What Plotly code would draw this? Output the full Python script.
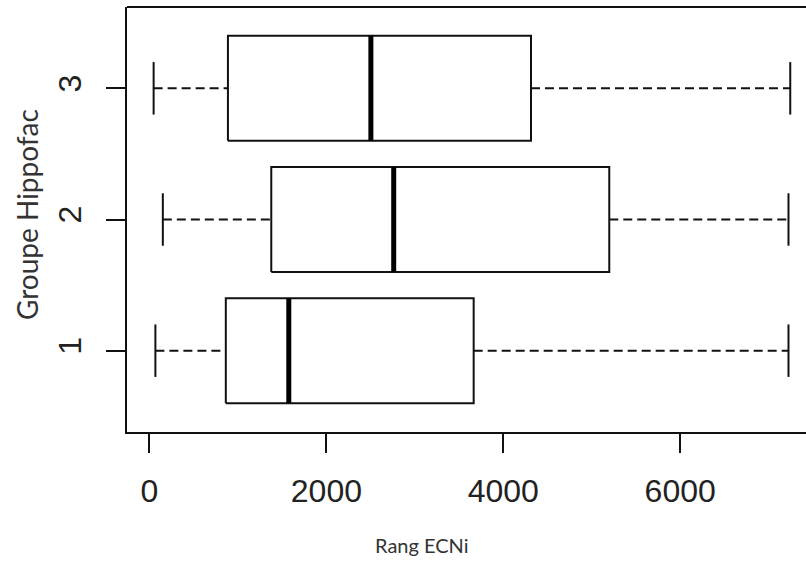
import plotly.graph_objects as go

# Five-number summaries per group (Rang ECNi)
groups = [1, 2, 3]
whisker_low = [67, 151, 47]
q1 = [863, 1377, 887]
median = [1575, 2761, 2503]
q3 = [3665, 5198, 4313]
whisker_high = [7224, 7224, 7244]

x_ticks = [0, 2000, 4000, 6000]
x_tick_labels = ["0", "2000", "4000", "6000"]

BOX_HALF = 0.4    # half of box thickness (boxwex 0.8)
CAP_HALF = 0.2    # half of whisker staple length
INK = "#111111"

box_x, box_y = [], []
med_x, med_y = [], []
wh_x, wh_y = [], []
cap_x, cap_y = [], []
for g, lo, a, m, b, hi in zip(groups, whisker_low, q1, median, q3, whisker_high):
    box_x += [a, b, b, a, a, None]
    box_y += [g - BOX_HALF, g - BOX_HALF, g + BOX_HALF, g + BOX_HALF, g - BOX_HALF, None]
    med_x += [m, m, None]
    med_y += [g - BOX_HALF, g + BOX_HALF, None]
    wh_x += [lo, a, None, b, hi, None]
    wh_y += [g, g, None, g, g, None]
    cap_x += [lo, lo, None, hi, hi, None]
    cap_y += [g - CAP_HALF, g + CAP_HALF, None, g - CAP_HALF, g + CAP_HALF, None]

fig = go.Figure()
fig.add_trace(go.Scatter(x=wh_x, y=wh_y, mode="lines",
                         line=dict(color=INK, width=2, dash="9px,5px"),
                         hoverinfo="skip"))
fig.add_trace(go.Scatter(x=cap_x, y=cap_y, mode="lines",
                         line=dict(color=INK, width=2), hoverinfo="skip"))
fig.add_trace(go.Scatter(x=box_x, y=box_y, mode="lines",
                         line=dict(color=INK, width=2), hoverinfo="skip"))
fig.add_trace(go.Scatter(x=med_x, y=med_y, mode="lines",
                         line=dict(color="#000000", width=5), hoverinfo="skip"))

tick_font = dict(family="Liberation Sans, Arial, sans-serif", size=32, color="#222222")
xtitle_font = dict(family="Lato, Open Sans, sans-serif", size=20, color="#333333")
ytitle_font = dict(family="Lato, Open Sans, sans-serif", size=28, color="#333333")

fig.update_layout(
    width=806, height=567,
    margin=dict(l=127, r=0, t=7, b=135),
    paper_bgcolor="white", plot_bgcolor="white",
    showlegend=False,
    xaxis=dict(range=[-254, 7422], tickvals=x_ticks, ticktext=x_tick_labels,
               ticks="outside", ticklen=19, tickwidth=2, tickcolor=INK,
               showline=True, linecolor=INK, linewidth=2,
               showgrid=False, zeroline=False, tickfont=tick_font,
               ticklabelstandoff=11),
    yaxis=dict(range=[0.38, 3.62], tickvals=groups, ticktext=[str(g) for g in groups],
               ticks="outside", ticklen=19, tickwidth=2, tickcolor=INK,
               showline=True, linecolor=INK, linewidth=2,
               showgrid=False, zeroline=False, tickfont=tick_font,
               tickangle=-90, ticklabelstandoff=12),
    shapes=[dict(type="line", xref="paper", yref="paper", x0=0, x1=1, y0=1, y1=1,
                 line=dict(color=INK, width=2))],
    annotations=[
        dict(text="Rang ECNi", xref="paper", yref="paper",
             x=(422 - 127) / 679, y=(432 - 545) / 425,
             xanchor="center", yanchor="middle", showarrow=False, font=xtitle_font),
        dict(text="Groupe Hippofac", xref="paper", yref="paper",
             x=(27 - 127) / 679, y=(432 - 215) / 425, textangle=-90,
             xanchor="center", yanchor="middle", showarrow=False, font=ytitle_font),
    ],
)

fig.write_html("out.html")
